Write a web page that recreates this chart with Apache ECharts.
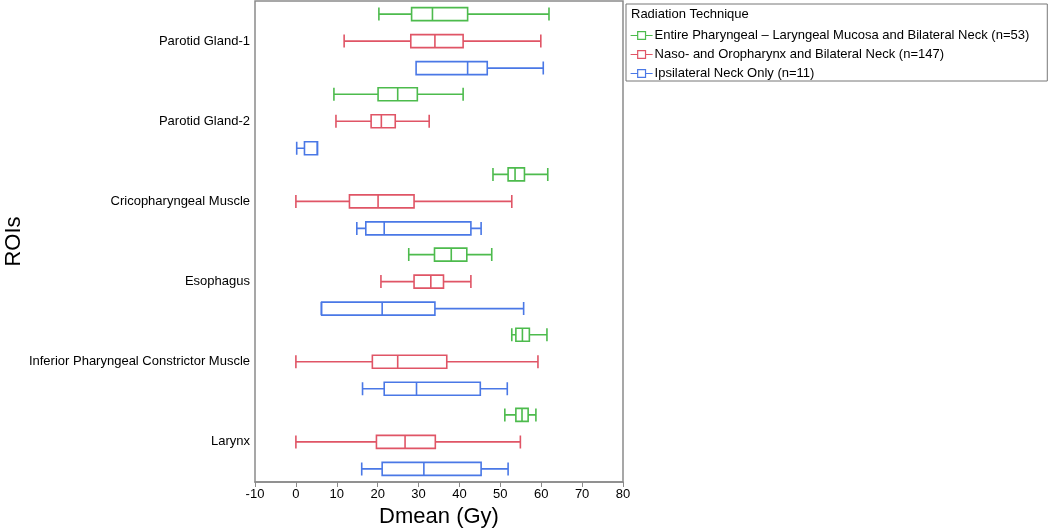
<!DOCTYPE html>
<html><head><meta charset="utf-8">
<script src="https://cdn.jsdelivr.net/npm/echarts@6/dist/echarts.min.js"></script>
<style>html,body{margin:0;padding:0;background:#fff}#c{width:1050px;height:529px}</style>
</head><body><div id="c"></div>
<script>
const categories = ['Parotid Gland-1','Parotid Gland-2','Cricopharyngeal Muscle','Esophagus','Inferior Pharyngeal Constrictor Muscle','Larynx'];
const seriesNames = ['Entire Pharyngeal \u2013 Laryngeal Mucosa and Bilateral Neck (n=53)','Naso- and Oropharynx and Bilateral Neck (n=147)','Ipsilateral Neck Only (n=11)'];
// [min, Q1, median, Q3, max]
const entireData = [[20.3,28.3,33.4,42.0,61.9],[9.3,20.1,24.9,29.7,40.9],[48.2,51.9,53.6,55.9,61.6],[27.6,33.9,38.0,41.8,47.9],[52.8,53.8,55.4,57.1,61.4],[51.1,53.8,55.3,56.8,58.7]];
const nasoData = [[11.8,28.1,34.0,40.9,59.9],[9.8,18.4,20.9,24.3,32.6],[0,13.1,20.1,28.9,52.8],[20.8,28.9,33.0,36.1,42.8],[0,18.7,24.9,36.9,59.2],[0,19.7,26.7,34.1,54.9]];
const ipsiData = [[29.4,29.4,42.0,46.8,60.5],[0.2,2.1,5.2,5.3,5.3],[14.9,17.1,21.6,42.8,45.3],[6.2,6.3,21.1,34.0,55.7],[16.3,21.6,29.5,45.1,51.7],[16.1,21.1,31.3,45.3,51.9]];
const xTicks = {min:-10, max:80, interval:10};
const colors = ['#4dbb4d','#e05566','#4a78e6'];

const font = 'Liberation Sans, Arial, sans-serif';
const gridTops = [-26, 1, 28];
const grids = gridTops.map((t,i)=>({left:255, width:368, top:t, height:481, show:i===1, outerBoundsMode:'none', containLabel:false, borderColor:'#8a8a8a', borderWidth:1.5, backgroundColor:'transparent'}));
const xAxes = gridTops.map((t,i)=>({
  type:'value', gridIndex:i, min:xTicks.min, max:xTicks.max, interval:xTicks.interval, show:i===1,
  name: i===1 ? 'Dmean (Gy)' : '', nameLocation:'middle', nameGap:24,
  nameTextStyle:{fontFamily:font, fontSize:22, color:'#000'},
  axisLine:{show:true, lineStyle:{color:'#8a8a8a', width:1.5}},
  axisTick:{show:true, length:5, lineStyle:{color:'#8a8a8a'}},
  axisLabel:{fontFamily:font, fontSize:13, color:'#000', margin:6},
  splitLine:{show:false}
}));
const yAxes = gridTops.map((t,i)=>({
  type:'category', gridIndex:i, data:categories, inverse:true, show:i===1,
  name: i===1 ? 'ROIs' : '', nameLocation:'middle', nameGap:224, nameRotate:90,
  nameTextStyle:{fontFamily:font, fontSize:22, color:'#000'},
  axisLine:{show:false}, axisTick:{show:false},
  axisLabel:{fontFamily:font, fontSize:13, color:'#000', margin:5},
  splitLine:{show:false}
}));
const allData = [entireData, nasoData, ipsiData];
const series = allData.map((d,i)=>({
  type:'boxplot', name:seriesNames[i], xAxisIndex:i, yAxisIndex:i,
  data:d, boxWidth:[13,13],
  itemStyle:{color:'#fff', borderColor:colors[i], borderWidth:1.6},
  emphasis:{disabled:true}, silent:true, animation:false
}));
const boxIcon = 'path://M0,5 L9,5 M9,0 L19,0 L19,10 L9,10 Z M19,5 L28,5';
const option = {
  animation:false,
  grid:grids, xAxis:xAxes, yAxis:yAxes, series:series,
  title:{text:'Radiation Technique', left:631, top:8, padding:0, textStyle:{fontFamily:font, fontSize:13, fontWeight:'normal', color:'#000'}},
  legend:{
    orient:'vertical', left:626, top:4,
    padding:[24, 18, 0, 4], itemGap:4, itemWidth:22, itemHeight:8,
    borderColor:'#777', borderWidth:1,
    textStyle:{fontFamily:font, fontSize:13, color:'#000', padding:[0,0,0,-3], lineHeight:15},
    data: seriesNames.map((n,i)=>({name:n, icon:boxIcon, itemStyle:{color:'#fff', borderColor:colors[i], borderWidth:1.2}}))
  }
};
echarts.init(document.getElementById('c')).setOption(option);
</script></body></html>
